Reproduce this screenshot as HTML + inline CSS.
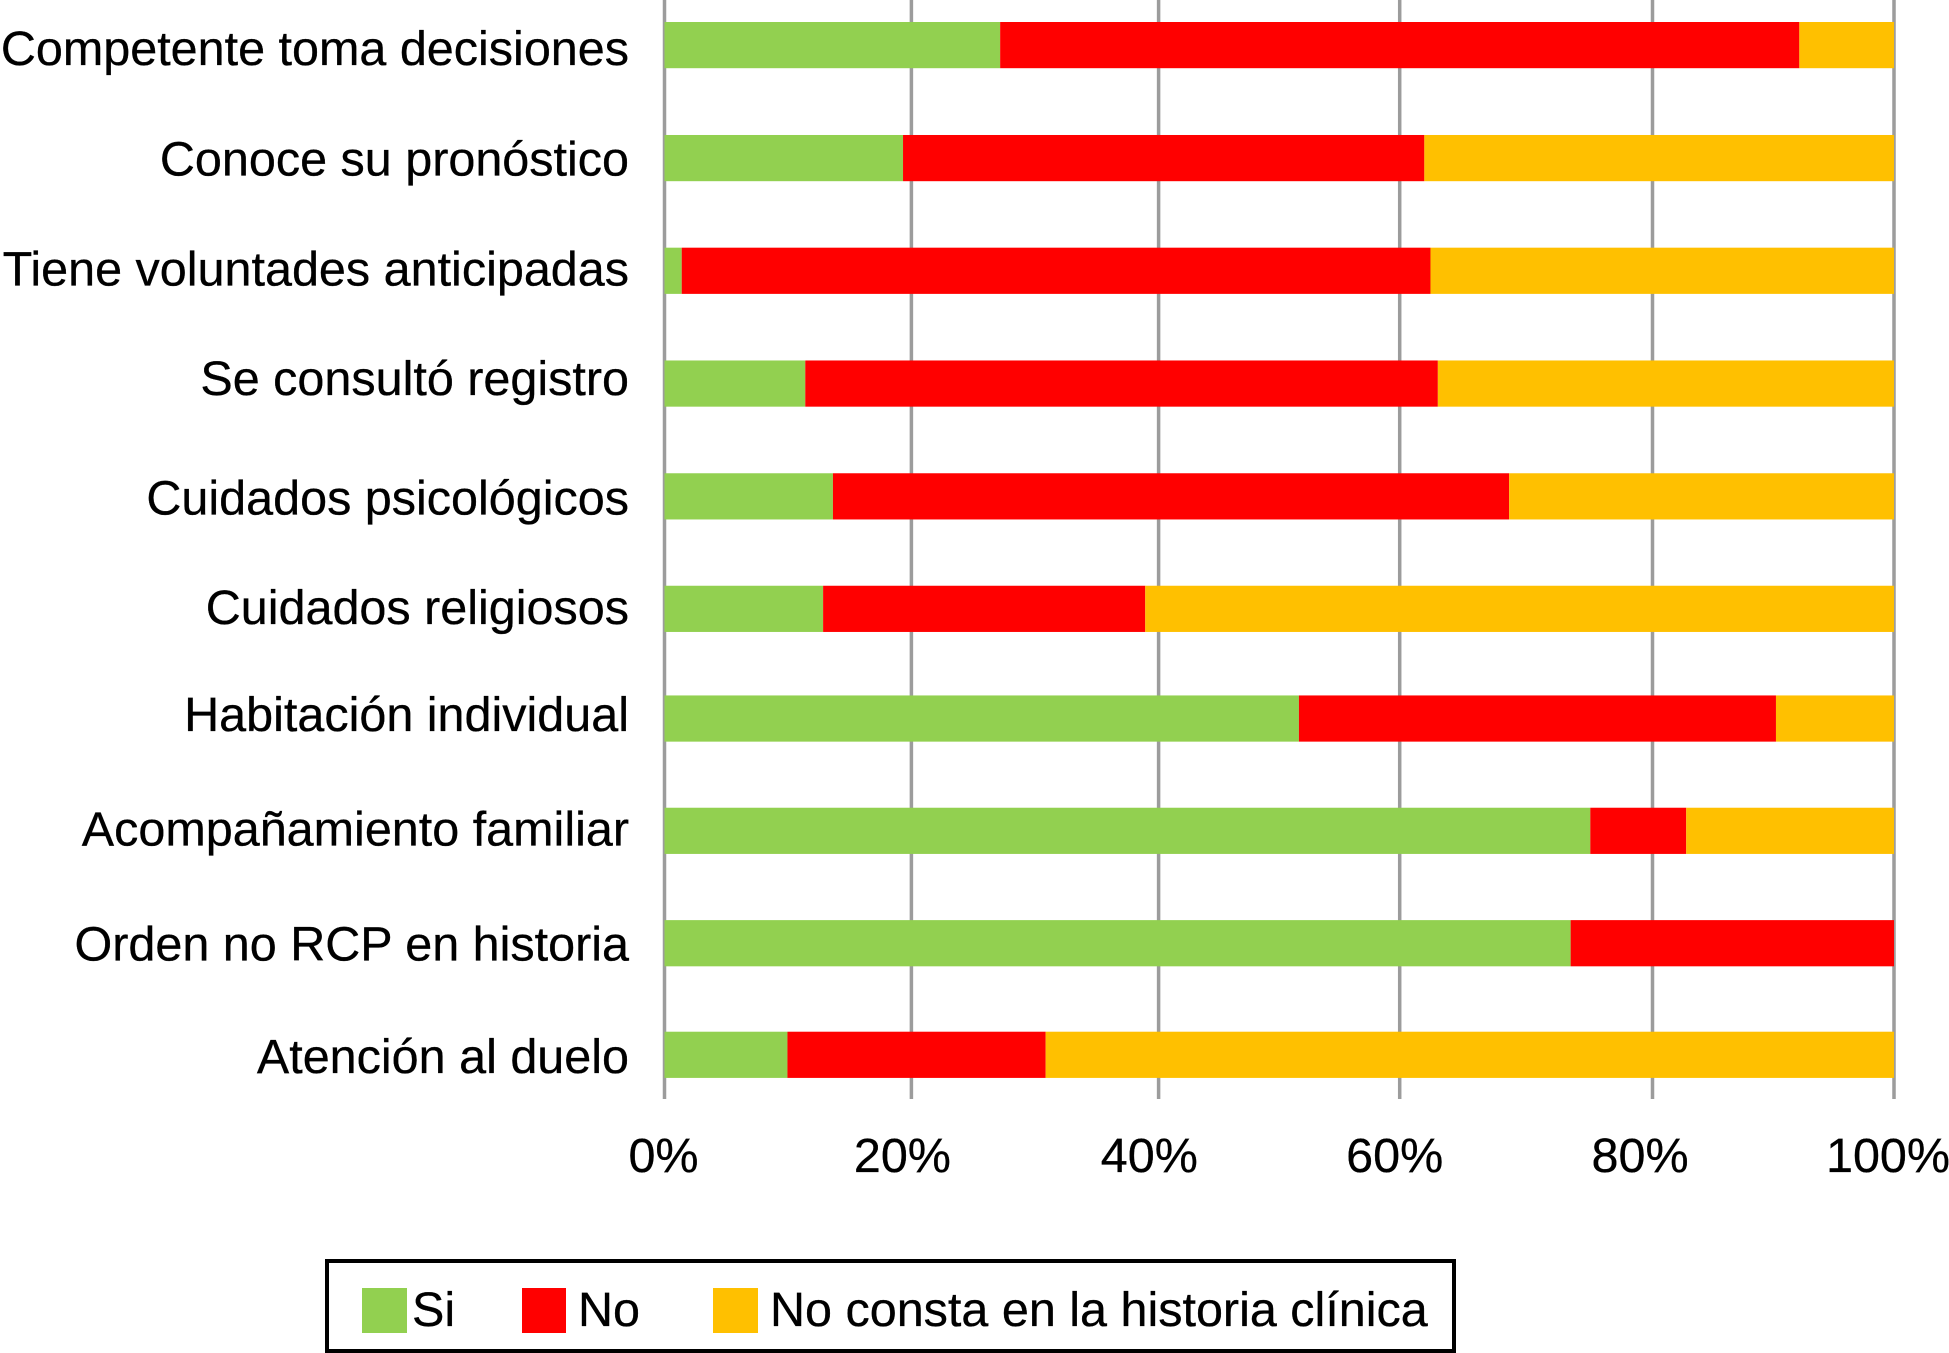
<!DOCTYPE html>
<html lang="es">
<head>
<meta charset="utf-8">
<title>Gráfico de barras apiladas</title>
<style>
html,body{margin:0;padding:0;background:#fff;}
svg{display:block;}
text{font-family:"Liberation Sans",sans-serif;font-size:48.5px;fill:#000;stroke:#000;stroke-width:0.3px;}
.row-2{transform:translateY(0.8px)}.row-3{transform:translateY(1.3px)}.row-4{transform:translateY(1.9px)}
.row-5{transform:translateY(2.5px)}.row-6{transform:translateY(2.8px)}.row-7{transform:translateY(0.3px)}
.row-8{transform:translateY(0.4px)}.row-9{transform:translateY(0.6px)}
.cat-2{transform:translateY(-1.3px)}.cat-3{transform:translateY(-3.3px)}.cat-4{transform:translateY(-6px)}
.cat-5{transform:translateY(1.3px)}.cat-6{transform:translateY(-1px)}.cat-7{transform:translateY(-6px)}
.cat-8{transform:translateY(-3.6px)}.cat-9{transform:translateY(-0.3px)}
.grid-2{transform:translateX(1px)}.grid-3{transform:translateX(2.3px)}.grid-4{transform:translateX(-2.5px)}.grid-5{transform:translateX(4.4px)}
.tick-1{transform:translateX(-1px)}.tick-2{transform:translateX(-8px)}.tick-3{transform:translateX(-7px)}.tick-4{transform:translateX(-7.5px)}.tick-5{transform:translateX(-8px)}.tick-6{transform:translateX(-6px)}
</style>
</head>
<body>
<svg id="chart" width="1949" height="1353" viewBox="0 0 1949 1353" xmlns="http://www.w3.org/2000/svg">
  <g id="grid"></g>
  <g id="bars"></g>
  <g id="cats"></g>
  <g id="ticks"></g>
  <g>
    <rect x="327" y="1261" width="1127" height="90" fill="#fff" stroke="#000" stroke-width="4"/>
    <rect x="362" y="1288" width="45" height="45" fill="#92D050"/>
    <text x="412" y="1326">Si</text>
    <rect x="522" y="1288" width="44" height="45" fill="#FF0000"/>
    <text x="578" y="1326">No</text>
    <rect x="713" y="1288" width="45" height="45" fill="#FFC000"/>
    <text x="770" y="1326">No consta en la historia clínica</text>
  </g>
</svg>
<script>
const categories = ["Competente toma decisiones","Conoce su pronóstico","Tiene voluntades anticipadas","Se consultó registro","Cuidados psicológicos","Cuidados religiosos","Habitación individual","Acompañamiento familiar","Orden no RCP en historia","Atención al duelo"];
const siValues = [27.3,19.4,1.4,11.45,13.7,12.9,51.6,75.3,73.7,10];
const noValues = [65,42.4,60.9,51.45,55,26.2,38.8,7.8,26.3,21];
const noConstaValues = [7.7,38.2,37.7,37.1,31.3,60.9,9.6,16.9,0,69];
const tickValues = [0,20,40,60,80,100];
const tickLabels = ["0%","20%","40%","60%","80%","100%"];

const NS = "http://www.w3.org/2000/svg";
function xScale(v){ return 664.5 + v * 12.295; }
function yScale(i){ return 22 + i * 112.19; }
function labelBaseline(i){ return 65 + i * 112; }

const gridLayer = document.getElementById("grid");
const barLayer = document.getElementById("bars");
const catLayer = document.getElementById("cats");
const tickLayer = document.getElementById("ticks");

tickValues.forEach(function(v,i){
  const line = document.createElementNS(NS,"line");
  line.setAttribute("x1",xScale(v));
  line.setAttribute("x2",xScale(v));
  line.setAttribute("y1",0);
  line.setAttribute("y2",1099);
  line.setAttribute("stroke","#9C9C9C");
  line.setAttribute("stroke-width",3.5);
  line.setAttribute("class","grid-"+(i+1));
  
  
  gridLayer.appendChild(line);

  const t = document.createElementNS(NS,"text");
  t.setAttribute("x",xScale(v));
  t.setAttribute("y",1172);
  t.setAttribute("text-anchor","middle");
  t.setAttribute("class","tick-"+(i+1));
  
  
  t.textContent = tickLabels[i];
  tickLayer.appendChild(t);
});

function addSegment(group,start,value,color,name){
  if(value <= 0) return;
  const r = document.createElementNS(NS,"rect");
  r.setAttribute("x",xScale(start));
  r.setAttribute("y",0);
  r.setAttribute("width",xScale(start+value)-xScale(start));
  r.setAttribute("height",46.2);
  r.setAttribute("fill",color);
  
  
  group.appendChild(r);
}

categories.forEach(function(cat,i){
  const row = document.createElementNS(NS,"g");
  row.setAttribute("class","row-"+(i+1));
  
  
  const inner = document.createElementNS(NS,"g");
  inner.setAttribute("transform","translate(0,"+yScale(i)+")");
  addSegment(inner,0,siValues[i],"#92D050","bar-segment-si");
  addSegment(inner,siValues[i],noValues[i],"#FF0000","bar-segment-no");
  addSegment(inner,siValues[i]+noValues[i],noConstaValues[i],"#FFC000","bar-segment-no-consta");
  row.appendChild(inner);
  barLayer.appendChild(row);

  const t = document.createElementNS(NS,"text");
  t.setAttribute("x",629);
  t.setAttribute("y",labelBaseline(i));
  t.setAttribute("text-anchor","end");
  t.setAttribute("class","cat-"+(i+1));
  
  
  t.textContent = cat;
  catLayer.appendChild(t);
});
</script>
</body>
</html>
